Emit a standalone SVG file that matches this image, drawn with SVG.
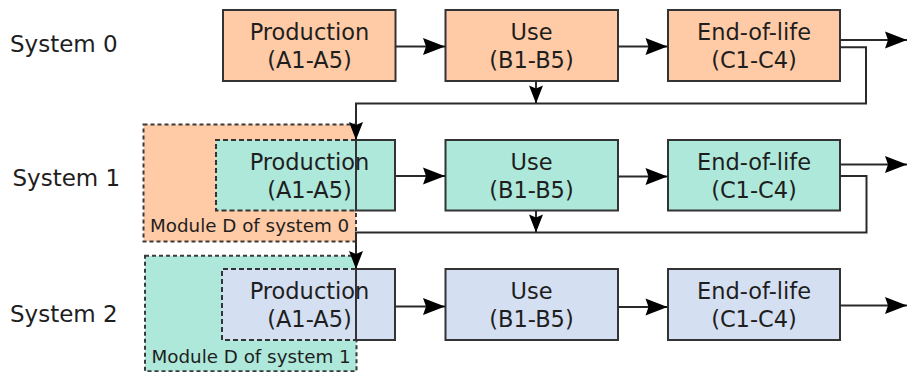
<svg xmlns="http://www.w3.org/2000/svg" width="908" height="372" viewBox="0 0 908 372">
<defs>
<style>
.box{stroke:#333;stroke-width:2}
.o{fill:#FFCBA6}
.t{fill:#ADE8DA}
.b{fill:#D5DFF2}
.nos{stroke:none}
.dash{fill:none;stroke:#333;stroke-width:2;stroke-dasharray:5 3}
.mod{stroke:#3a3a3a;stroke-width:2;stroke-dasharray:4 3}
.lbl{font-family:"DejaVu Sans",Verdana,sans-serif;font-size:22.5px;fill:#1e1e1e;text-anchor:middle}
.sys{font-family:"DejaVu Sans",Verdana,sans-serif;font-size:23px;fill:#1e1e1e}
.md{font-family:"DejaVu Sans",Verdana,sans-serif;font-size:18.3px;fill:#1e1e1e}
.ln{fill:none;stroke:#2a2a2a;stroke-width:2}
</style>
<marker id="big" markerUnits="userSpaceOnUse" viewBox="-24 -10 25 20" markerWidth="25" markerHeight="20" refX="0" refY="0" orient="auto">
<path d="M0,0 L-22,-8.5 L-19,0 L-22,8.5 Z" fill="#000"/>
</marker>
<marker id="sm" markerUnits="userSpaceOnUse" viewBox="-19 -8 20 16" markerWidth="20" markerHeight="16" refX="0" refY="0" orient="auto">
<path d="M0,0 L-18,-7 L-15,0 L-18,7 Z" fill="#000"/>
</marker>
</defs>
<rect width="908" height="372" fill="#fff"/>

<g id="labels">
<text class="sys" x="10" y="52">System 0</text>
<text class="sys" x="12.5" y="186">System 1</text>
<text class="sys" x="10" y="321.5">System 2</text>
</g>

<g id="moduleD0">
<rect class="o mod" x="143.5" y="124.5" width="212.5" height="117"/>
<text class="md" x="150" y="232">Module D of system 0</text>
</g>
<g id="moduleD1">
<rect class="t mod" x="145" y="255.8" width="211.5" height="115.5"/>
<text class="md" x="151.5" y="363">Module D of system 1</text>
</g>

<g id="prod0">
<rect class="box o" x="223" y="10" width="172.5" height="71"/>
<text class="lbl" x="309.5" y="39.5">Production</text>
<text class="lbl" x="309.5" y="68">(A1-A5)</text>
</g>
<g id="use0">
<rect class="box o" x="445.5" y="10" width="172.5" height="71"/>
<text class="lbl" x="531.5" y="39.5">Use</text>
<text class="lbl" x="531.5" y="68">(B1-B5)</text>
</g>
<g id="eol0">
<rect class="box o" x="668" y="10" width="172" height="71"/>
<text class="lbl" x="754" y="39.5">End-of-life</text>
<text class="lbl" x="754" y="68">(C1-C4)</text>
</g>

<g id="prod1">
<rect class="t nos" x="216" y="140" width="179" height="70.5"/>
<path class="dash" d="M356,140 H216 V210.5 H356"/>
<rect class="box" fill="none" x="356" y="140" width="39" height="70.5"/>
<text class="lbl" x="309.5" y="169.5">Production</text>
<text class="lbl" x="309.5" y="198">(A1-A5)</text>
</g>
<g id="use1">
<rect class="box t" x="445.5" y="140" width="172.5" height="70.5"/>
<text class="lbl" x="531.5" y="169.5">Use</text>
<text class="lbl" x="531.5" y="198">(B1-B5)</text>
</g>
<g id="eol1">
<rect class="box t" x="668" y="140" width="172" height="70.5"/>
<text class="lbl" x="754" y="169.5">End-of-life</text>
<text class="lbl" x="754" y="198">(C1-C4)</text>
</g>

<g id="prod2">
<rect class="b nos" x="222" y="269" width="173" height="71"/>
<path class="dash" d="M356,269 H222 V340 H356"/>
<rect class="box" fill="none" x="356" y="269" width="39" height="71"/>
<text class="lbl" x="309.5" y="298.5">Production</text>
<text class="lbl" x="309.5" y="327">(A1-A5)</text>
</g>
<g id="use2">
<rect class="box b" x="445.5" y="269" width="172.5" height="71"/>
<text class="lbl" x="531.5" y="298.5">Use</text>
<text class="lbl" x="531.5" y="327">(B1-B5)</text>
</g>
<g id="eol2">
<rect class="box b" x="668" y="269" width="172" height="71"/>
<text class="lbl" x="754" y="298.5">End-of-life</text>
<text class="lbl" x="754" y="327">(C1-C4)</text>
</g>

<g id="connectors">
<path class="ln" d="M395.5,46.5 H445" marker-end="url(#big)"/>
<path class="ln" d="M618,46.5 H667.5" marker-end="url(#big)"/>
<path class="ln" d="M840,40 H907" marker-end="url(#big)"/>
<path class="ln" d="M536,81 V103.5" marker-end="url(#sm)"/>
<path class="ln" d="M840,47.3 H866 V103.5 H356 V140" marker-end="url(#sm)"/>

<path class="ln" d="M395,176 H445" marker-end="url(#big)"/>
<path class="ln" d="M618,176.5 H667.5" marker-end="url(#big)"/>
<path class="ln" d="M840,164.5 H907" marker-end="url(#big)"/>
<path class="ln" d="M536,210.5 V232.5" marker-end="url(#sm)"/>
<path class="ln" d="M840,176 H866.5 V232.5 H356 V269" marker-end="url(#sm)"/>

<path class="ln" d="M395,306.5 H445" marker-end="url(#big)"/>
<path class="ln" d="M618,307 H667.5" marker-end="url(#big)"/>
<path class="ln" d="M840,305.5 H907" marker-end="url(#big)"/>
</g>
</svg>
